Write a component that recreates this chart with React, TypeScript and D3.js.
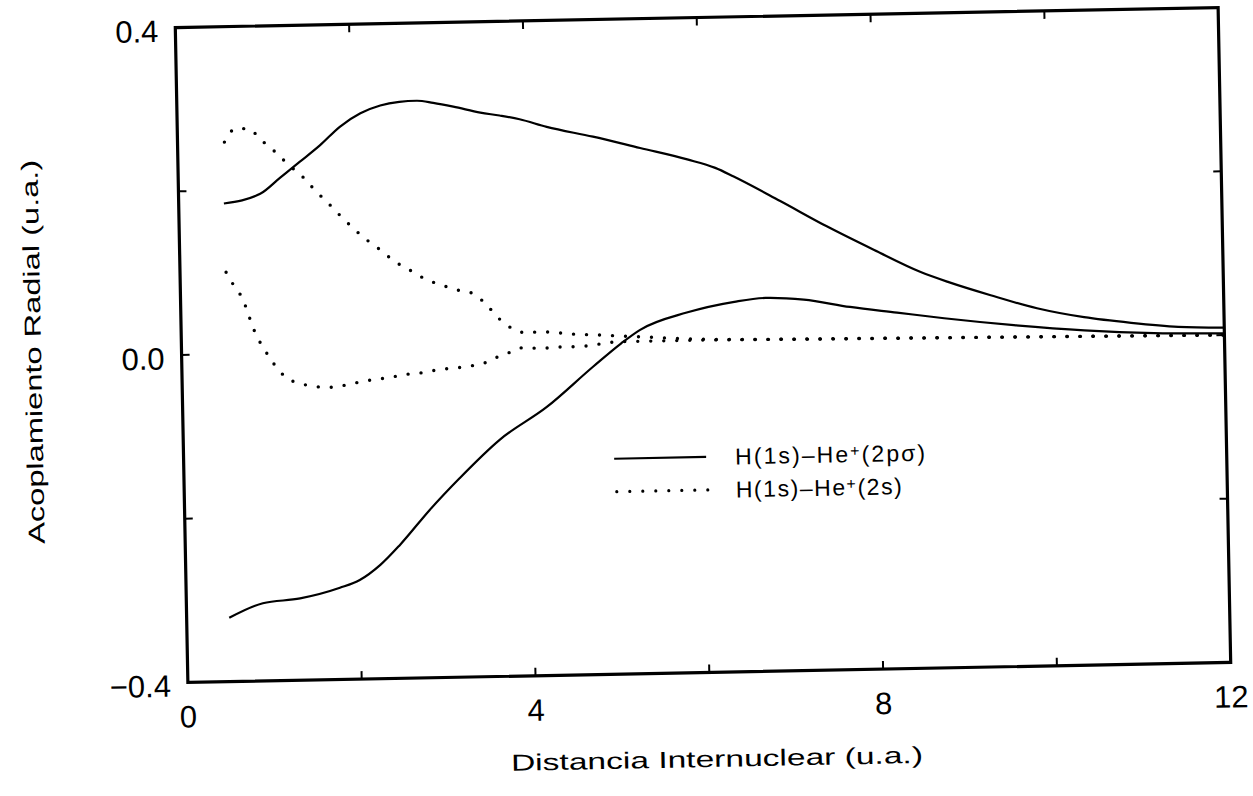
import React from "react";
import * as d3 from "d3";

// ---- Data ----
const xTickValues = [2, 4, 6, 8, 10];
const xTickLabels = [0, 4, 8, 12];
const yTickValues = [-0.2, 0, 0.2];
const yTickLabels = [-0.4, 0, 0.4];

// Solid curve 1 (upper)
const s1X = [0.52, 0.94, 1.17, 1.4, 1.64, 1.87, 2.11, 2.34, 2.56, 2.76, 2.95, 3.18, 3.49, 3.71, 3.94, 4.25, 4.78, 5.32, 5.86, 6.18, 6.39, 6.92, 7.45, 7.99, 8.52, 8.84, 9.32, 9.85, 10.39, 10.93, 11.47, 12.0];
const s1Y = [0.184, 0.195, 0.214, 0.233, 0.253, 0.275, 0.291, 0.3, 0.304, 0.305, 0.302, 0.297, 0.289, 0.285, 0.28, 0.27, 0.257, 0.242, 0.227, 0.216, 0.205, 0.174, 0.142, 0.112, 0.084, 0.071, 0.054, 0.037, 0.025, 0.017, 0.011, 0.009];

// Solid curve 2 (lower)
const s2X = [0.49, 0.88, 1.31, 1.77, 2.0, 2.24, 2.47, 2.82, 3.17, 3.64, 4.19, 4.73, 5.06, 5.28, 5.82, 6.37, 6.73, 7.17, 7.7, 8.24, 8.78, 9.58, 10.39, 11.19, 12.0];
const s2Y = [-0.322, -0.305, -0.3, -0.288, -0.279, -0.261, -0.237, -0.195, -0.157, -0.111, -0.072, -0.024, 0.004, 0.02, 0.04, 0.052, 0.056, 0.053, 0.043, 0.035, 0.027, 0.017, 0.009, 0.004, 0.002];

// Dotted curve 1 (upper)
const d1X = [0.54, 0.67, 0.81, 0.97, 1.12, 1.26, 1.43, 1.58, 1.72, 1.86, 2.01, 2.17, 2.33, 2.46, 2.62, 2.77, 2.91, 3.07, 3.22, 3.37, 3.52, 3.66, 3.82, 3.98, 4.12, 4.28, 4.44, 4.56, 4.74, 5.2, 6, 7, 8, 9, 10, 11, 12];
const d1Y = [0.259, 0.275, 0.275, 0.26, 0.246, 0.231, 0.215, 0.197, 0.182, 0.166, 0.15, 0.135, 0.122, 0.11, 0.1, 0.09, 0.083, 0.077, 0.072, 0.068, 0.054, 0.037, 0.024, 0.019, 0.02, 0.019, 0.017, 0.016, 0.015, 0.012, 0.007, 0.005, 0.004, 0.003, 0.002, 0.001, 0.0];

// Dotted curve 2 (lower)
const d2X = [0.53, 0.62, 0.71, 0.76, 0.82, 0.88, 0.97, 1.06, 1.21, 1.34, 1.5, 1.67, 1.8, 1.95, 2.11, 2.26, 2.41, 2.56, 2.71, 2.88, 3.04, 3.18, 3.33, 3.48, 3.63, 3.79, 3.93, 4.09, 4.24, 4.39, 4.55, 5.06, 6, 7, 8, 9, 10, 11, 12];
const d2Y = [0.1, 0.083, 0.068, 0.054, 0.034, 0.019, 0.002, -0.013, -0.031, -0.037, -0.041, -0.043, -0.042, -0.039, -0.036, -0.034, -0.032, -0.029, -0.028, -0.025, -0.023, -0.022, -0.02, -0.017, -0.01, -0.004, 0.001, 0.0, 0.0, 0.001, 0.001, 0.006, 0.006, 0.005, 0.004, 0.003, 0.002, 0.001, 0.0];

const legendLabels = ["H(1s)\u2013He", "(2p\u03C3)", "H(1s)\u2013He", "(2s)"];

const W = 1253;
const H = 796;
const L = 181.5, R = 1224.5, T = 17.5, B = 672.5;
const tickFont = "'Liberation Sans', Arial, sans-serif";
const titleFont = "'Liberation Sans', Arial, sans-serif";

function zip(xs: number[], ys: number[]): [number, number][] {
  return xs.map((v, i) => [v, ys[i]]);
}

export default function App() {
  const x = d3.scaleLinear().domain([0, 12]).range([L, R]);
  const y = d3.scaleLinear().domain([-0.4, 0.4]).range([B, T]);
  const line = d3
    .line<[number, number]>()
    .x((d) => x(d[0]))
    .y((d) => y(d[1]))
    .curve(d3.curveMonotoneX);

  const tickLen = 8;
  const cx = (L + R) / 2;
  const cy = (T + B) / 2;

  return (
    <svg
      width={W}
      height={H}
      viewBox={`0 0 ${W} ${H}`}
      style={{ position: "absolute", left: 0, top: 0, background: "#fff" }}
    >
      <rect x={0} y={0} width={W} height={H} fill="#fff" />
      <g transform={`rotate(-1.1, ${cx}, ${cy})`}>
        {/* curves */}
        <path d={line(zip(s1X, s1Y)) || ""} fill="none" stroke="#000" strokeWidth={2.2} />
        <path d={line(zip(s2X, s2Y)) || ""} fill="none" stroke="#000" strokeWidth={2.2} />
        <path
          d={line(zip(d1X, d1Y)) || ""}
          fill="none"
          stroke="#000"
          strokeWidth={3.4}
          strokeLinecap="round"
          strokeDasharray="0 13"
        />
        <path
          d={line(zip(d2X, d2Y)) || ""}
          fill="none"
          stroke="#000"
          strokeWidth={3.4}
          strokeLinecap="round"
          strokeDasharray="0 13"
        />

        {/* frame */}
        <rect x={L} y={T} width={R - L} height={B - T} fill="none" stroke="#000" strokeWidth={3.2} />

        {/* ticks */}
        {xTickValues.map((v) => (
          <g key={"xt" + v}>
            <line x1={x(v)} x2={x(v)} y1={B} y2={B - tickLen} stroke="#000" strokeWidth={2} />
            <line x1={x(v)} x2={x(v)} y1={T} y2={T + tickLen} stroke="#000" strokeWidth={2} />
          </g>
        ))}
        {yTickValues.map((v) => (
          <g key={"yt" + v}>
            <line x1={L} x2={L + tickLen} y1={y(v)} y2={y(v)} stroke="#000" strokeWidth={2} />
            <line x1={R} x2={R - tickLen} y1={y(v)} y2={y(v)} stroke="#000" strokeWidth={2} />
          </g>
        ))}

        {/* tick labels */}
        {xTickLabels.map((v) => (
          <text
            key={"xl" + v}
            x={x(v)}
            y={B + 45}
            textAnchor="middle"
            fontFamily={tickFont}
            fontSize={31}
            fill="#000"
          >
            {String(v)}
          </text>
        ))}
        {yTickLabels.map((v) => (
          <text
            key={"yl" + v}
            x={L - 17}
            y={y(v) + 14}
            textAnchor="end"
            fontFamily={tickFont}
            fontSize={31}
            fill="#000"
          >
            {v === 0 ? "0.0" : v < 0 ? "\u2212" + Math.abs(v).toFixed(1) : v.toFixed(1)}
          </text>
        ))}

        {/* axis titles */}
        <text
          x={cx + 6}
          y={767}
          textAnchor="middle"
          fontFamily={titleFont}
          fontSize={23}
          textLength={412}
          lengthAdjust="spacingAndGlyphs"
          fill="#000"
        >
          Distancia Internuclear  (u.a.)
        </text>
        <text
          transform={`translate(41, ${cy - 6}) rotate(-90)`}
          textAnchor="middle"
          fontFamily={titleFont}
          fontSize={23}
          textLength={384}
          lengthAdjust="spacingAndGlyphs"
          fill="#000"
        >
          Acoplamiento Radial  (u.a.)
        </text>

        {/* legend */}
        <line x1={612} x2={704} y1={457} y2={457} stroke="#000" strokeWidth={2.2} />
        <text
          x={733}
          y={465}
          fontFamily={tickFont}
          fontSize={23}
          textLength={190}
          lengthAdjust="spacing"
          fill="#000"
        >
          {legendLabels[0]}
          <tspan fontSize={16} dy={-6}>+</tspan>
          <tspan dy={6}>{legendLabels[1]}</tspan>
        </text>
        <line
          x1={614}
          x2={706}
          y1={490}
          y2={490}
          stroke="#000"
          strokeWidth={3.2}
          strokeLinecap="round"
          strokeDasharray="0 13"
        />
        <text
          x={733}
          y={498}
          fontFamily={tickFont}
          fontSize={23}
          textLength={166}
          lengthAdjust="spacing"
          fill="#000"
        >
          {legendLabels[2]}
          <tspan fontSize={16} dy={-6}>+</tspan>
          <tspan dy={6}>{legendLabels[3]}</tspan>
        </text>
      </g>
    </svg>
  );
}
